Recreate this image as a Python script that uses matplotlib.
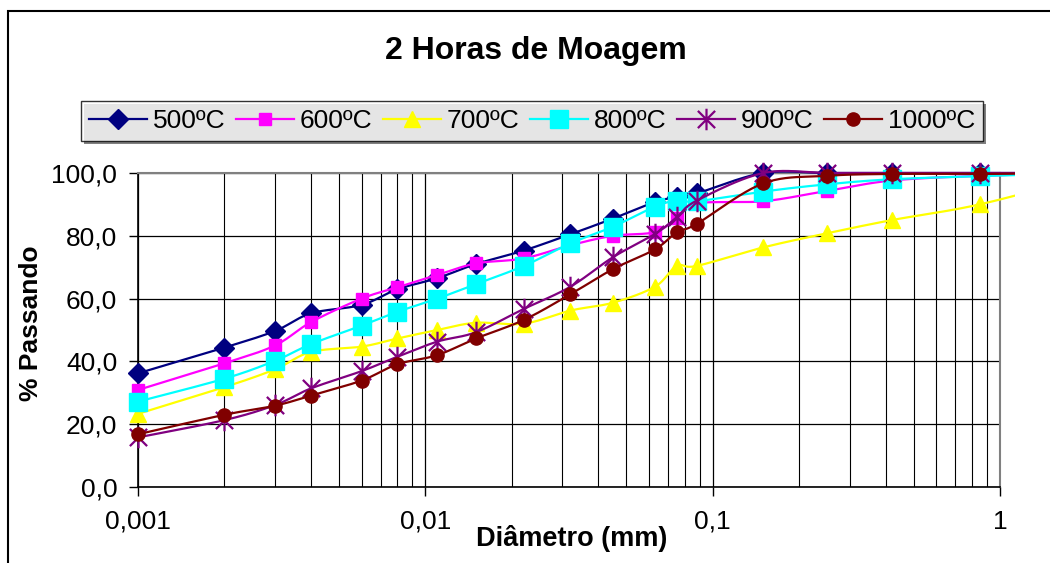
import numpy as np
import matplotlib
matplotlib.use("Agg")
import matplotlib.pyplot as plt
from matplotlib.path import Path
from matplotlib.patches import Rectangle
from matplotlib.ticker import FixedLocator, FixedFormatter, LogLocator, NullFormatter

plt.rcParams['font.family'] = ['Liberation Sans', 'DejaVu Sans']

# ---- data ----
diametro = [0.001, 0.002, 0.003, 0.004, 0.006, 0.008, 0.011, 0.015, 0.022, 0.032,
            0.045, 0.063, 0.075, 0.088, 0.15, 0.25, 0.42, 0.85, 2.0]
s500 = [36.2, 44.4, 49.7, 55.3, 58.0, 63.0, 66.5, 71.0, 75.3, 80.5,
        85.5, 90.8, 92.3, 93.5, 100, 100, 100, 100, 100]
s600 = [30.9, 39.4, 45.1, 52.5, 60.0, 63.6, 67.5, 71.2, 72.8, 77.0,
        80.0, 81.2, 85.7, 90.3, 91.0, 94.3, 97.6, 99.1, 100]
s700 = [23.3, 31.8, 37.5, 43.0, 44.7, 47.3, 50.0, 52.3, 52.0, 56.2,
        58.7, 63.8, 70.4, 70.4, 76.3, 80.8, 85.0, 90.0, 99]
s800 = [27.2, 34.5, 40.2, 45.5, 51.4, 55.8, 60.0, 64.6, 70.4, 77.6,
        82.9, 89.3, 91.2, 91.0, 94.1, 96.4, 98.0, 99.0, 100]
s900 = [15.8, 21.3, 26.1, 31.4, 36.9, 41.5, 46.3, 49.3, 56.7, 63.8,
        73.2, 80.6, 85.9, 91.2, 100, 100, 100, 100, 100]
s1000 = [16.8, 23.0, 25.9, 29.1, 33.9, 39.1, 42.0, 47.3, 53.2, 61.4,
         69.4, 75.7, 81.1, 83.8, 96.7, 99.1, 99.7, 99.7, 100]
labels = ['500ºC', '600ºC', '700ºC', '800ºC', '900ºC', '1000ºC']
series = [s500, s600, s700, s800, s900, s1000]

yticks = [0, 20, 40, 60, 80, 100]
ytick_labels = ['0,0', '20,0', '40,0', '60,0', '80,0', '100,0']
xticks = [0.001, 0.01, 0.1, 1]
xtick_labels = ['0,001', '0,01', '0,1', '1']

# ---- styles ----
star = Path([(-1, -1), (1, 1), (-1, 1), (1, -1), (0, -1.25), (0, 1.25)],
            [Path.MOVETO, Path.LINETO, Path.MOVETO, Path.LINETO, Path.MOVETO, Path.LINETO])
styles = [
    dict(color='#000080', marker='D', ms=10.5, mfc='#000080', mec='#000080'),
    dict(color='#FF00FF', marker='s', ms=8.0, mfc='#FF00FF', mec='#FF00FF'),
    dict(color='#FFFF00', marker='^', ms=11.0, mfc='#FFFF00', mec='#FFFF00'),
    dict(color='#00FFFF', marker='s', ms=13.5, mfc='#00FFFF', mec='#00FFFF'),
    dict(color='#800080', marker=star, ms=15.5, mfc='none', mec='#800080', mew=1.6),
    dict(color='#800000', marker='o', ms=9.5, mfc='#800000', mec='#800000'),
]

W, H = 1050, 563
fig = plt.figure(figsize=(W / 100, H / 100), dpi=100)
ax = fig.add_axes([138 / W, 1 - 487 / H, (1000 - 138) / W, (487 - 173) / H])
ax.set_xscale('log')
ax.set_xlim(0.001, 1)
ax.set_ylim(0, 100)

# grid
ax.xaxis.set_major_locator(FixedLocator(xticks))
ax.xaxis.set_major_formatter(FixedFormatter(xtick_labels))
ax.xaxis.set_minor_locator(LogLocator(base=10, subs=np.arange(2, 10)))
ax.xaxis.set_minor_formatter(NullFormatter())
ax.yaxis.set_major_locator(FixedLocator(yticks))
ax.yaxis.set_major_formatter(FixedFormatter(ytick_labels))
ax.grid(True, which='major', axis='both', color='#000000', lw=0.9, zorder=0)
ax.grid(True, which='minor', axis='x', color='#000000', lw=0.8, zorder=0)
ax.set_axisbelow(True)
ax.tick_params(axis='both', which='major', direction='out', length=6.5, width=1,
               labelsize=19, color='black')
ax.tick_params(axis='x', which='major', pad=10)
ax.tick_params(axis='y', which='major', pad=8.5)
ax.tick_params(axis='x', which='minor', length=0)
for s in ['top', 'right']:
    ax.spines[s].set_color('#808080')
    ax.spines[s].set_linewidth(1.5)
for s in ['left', 'bottom']:
    ax.spines[s].set_color('#000000')
    ax.spines[s].set_linewidth(1.2)


def smooth(xs, ys, n=24):
    pts = ax.transData.transform(np.column_stack([xs, ys]))
    out = []
    for i in range(len(pts) - 1):
        p0 = pts[i - 1] if i > 0 else pts[i]
        p1 = pts[i]
        p2 = pts[i + 1]
        p3 = pts[i + 2] if i + 2 < len(pts) else pts[i + 1]
        c1 = p1 + (p2 - p0) / 6
        c2 = p2 - (p3 - p1) / 6
        t = np.linspace(0, 1, n)[:, None]
        seg = (1 - t) ** 3 * p1 + 3 * (1 - t) ** 2 * t * c1 + 3 * (1 - t) * t ** 2 * c2 + t ** 3 * p2
        out.append(seg if i == 0 else seg[1:])
    return ax.transData.inverted().transform(np.vstack(out))


clip = Rectangle((0, 0), 1015 / W, 1, transform=fig.transFigure)
handles = []
for k, (ys, st, lab) in enumerate(zip(series, styles, labels)):
    sm = smooth(diametro, ys)
    ln, = ax.plot(sm[:, 0], sm[:, 1], color=st['color'], lw=1.6, zorder=3 + 2 * k)
    ln.set_clip_path(clip)
    mk, = ax.plot(diametro, ys, ls='none', marker=st['marker'], ms=st['ms'],
                  mfc=st['mfc'], mec=st['mec'], mew=st.get('mew', 1.0),
                  zorder=4 + 2 * k)
    mk.set_clip_path(clip)
    h, = ax.plot([], [], color=st['color'], lw=1.6, marker=st['marker'], ms=st['ms'],
                 mfc=st['mfc'], mec=st['mec'], mew=st.get('mew', 1.0))
    handles.append(h)

leg = fig.legend(handles, labels, loc='center', bbox_to_anchor=(532 / W, 1 - 121 / H),
                 bbox_transform=fig.transFigure, ncol=6, fontsize=19, frameon=True,
                 fancybox=False, shadow=False, handlelength=2.2, handletextpad=0.22,
                 columnspacing=0.4, borderpad=0.3, borderaxespad=0)
leg.get_frame().set_edgecolor('#000000')
leg.get_frame().set_linewidth(1.0)

# legend shadow
fig.canvas.draw()
bb = leg.get_window_extent()
sh = Rectangle((bb.x0 + 3, bb.y0 - 3), bb.width, bb.height, transform=None,
               facecolor='#808080', edgecolor='none', zorder=leg.get_zorder() - 1)
fig.add_artist(sh)

fig.text(536 / W, 1 - 51 / H, '2 Horas de Moagem', ha='center', va='center',
         fontsize=23, fontweight='bold')
fig.text(31 / W, 1 - 323 / H, '% Passando', ha='center', va='center', rotation=90,
         fontsize=19, fontweight='bold')
fig.text(572 / W, 1 - 538 / H, 'Diâmetro (mm)', ha='center', va='center',
         fontsize=19.5, fontweight='bold')

# outer chart border
border = Rectangle((8 / W, -0.1), 2, 1.1 - 11 / H, transform=fig.transFigure,
                   fill=False, edgecolor='black', lw=1.5, clip_on=False)
fig.add_artist(border)

fig.savefig('out.png', dpi=100)
